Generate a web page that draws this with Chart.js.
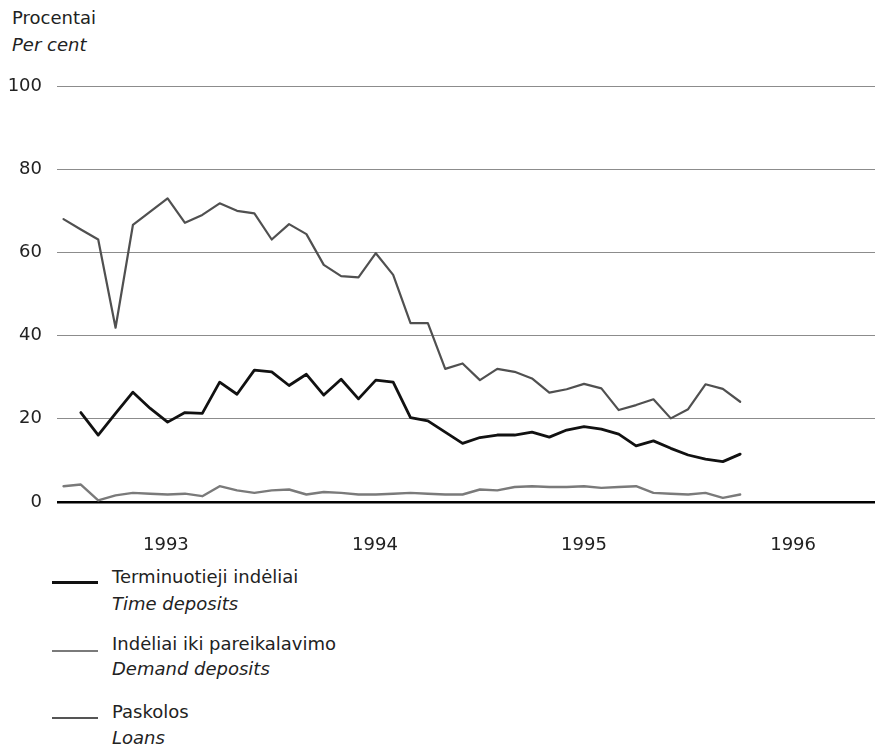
<!DOCTYPE html>
<html>
<head>
<meta charset="utf-8">
<script src="https://cdn.jsdelivr.net/npm/chart.js@4.4.1/dist/chart.umd.min.js"></script>
<style>
  body { margin: 0; background: #fff; font-family: "DejaVu Sans", sans-serif; color: #222; }
  #wrap { position: relative; width: 875px; height: 747px; }
  #chart-box { position: absolute; left: 0; top: 0; width: 875px; height: 560px; }
  .txt { position: absolute; font-size: 18px; line-height: 26px; white-space: nowrap; }
  .it { font-style: italic; }
  .swatch { position: absolute; left: 52px; width: 46px; }
</style>
</head>
<body>
<div id="wrap">
  <div class="txt" style="left:12px; top:5px;">Procentai</div>
  <div class="txt it" style="left:12px; top:32px;">Per cent</div>
  <div id="chart-box"><canvas id="chart"></canvas></div>

  <div class="swatch" style="top:581px; height:3px; background:#111;"></div>
  <div class="txt" style="left:112px; top:564px;">Terminuotieji indėliai</div>
  <div class="txt it" style="left:112px; top:591px;">Time deposits</div>

  <div class="swatch" style="top:650px; height:2px; background:#7a7a7a;"></div>
  <div class="txt" style="left:112px; top:631px;">Indėliai iki pareikalavimo</div>
  <div class="txt it" style="left:112px; top:656px;">Demand deposits</div>

  <div class="swatch" style="top:717px; height:2px; background:#555;"></div>
  <div class="txt" style="left:112px; top:699px;">Paskolos</div>
  <div class="txt it" style="left:112px; top:725px;">Loans</div>
</div>

<script>
// monthly observations, first point = January 1993
const monthIndex = Array.from({ length: 40 }, (_, i) => i);

const timeDeposits = [null, 21.5, 16.1, 21.3, 26.4, 22.5, 19.2, 21.5, 21.3, 28.8,
    25.9, 31.7, 31.3, 28.0, 30.7, 25.7, 29.5, 24.8, 29.3, 28.8,
    20.3, 19.5, 16.8, 14.1, 15.5, 16.1, 16.1, 16.8, 15.6, 17.3,
    18.1, 17.5, 16.3, 13.5, 14.7, 12.9, 11.3, 10.3, 9.7, 11.5];

const demandDeposits = [3.8, 4.2, 0.4, 1.6, 2.2, 2.0, 1.8, 2.0, 1.4, 3.8,
    2.8, 2.2, 2.8, 3.0, 1.8, 2.4, 2.2, 1.8, 1.8, 2.0,
    2.2, 2.0, 1.8, 1.8, 3.0, 2.8, 3.6, 3.8, 3.6, 3.6,
    3.8, 3.4, 3.6, 3.8, 2.2, 2.0, 1.8, 2.2, 1.0, 1.8];

const loans = [68.0, 65.5, 63.1, 41.9, 66.6, 69.8, 73.0, 67.1, 69.0, 71.8,
    70.0, 69.4, 63.1, 66.8, 64.4, 57.0, 54.3, 54.0, 59.8, 54.6,
    43.0, 43.0, 32.0, 33.3, 29.3, 32.0, 31.3, 29.7, 26.3, 27.1,
    28.4, 27.3, 22.1, 23.3, 24.7, 20.1, 22.3, 28.3, 27.2, 24.1];

// year labels sit in the middle of each year
const yearLabels = ['1993', '1994', '1995', '1996'];
const yearTickAt = [5.9, 17.95, 30.0, 42.05];

const yTicks = [0, 20, 40, 60, 80, 100];

const ctx = document.getElementById('chart').getContext('2d');
new Chart(ctx, {
    type: 'line',
    data: {
        labels: monthIndex,
        datasets: [
            {
                label: 'Paskolos',
                data: loans,
                borderColor: '#505050',
                borderWidth: 2.2
            },
            {
                label: 'Indėliai iki pareikalavimo',
                data: demandDeposits,
                borderColor: '#7a7a7a',
                borderWidth: 2.4
            },
            {
                label: 'Terminuotieji indėliai',
                data: timeDeposits,
                borderColor: '#111',
                borderWidth: 2.8
            }
        ]
    },
    options: {
        responsive: true,
        maintainAspectRatio: false,
        animation: false,
        layout: { padding: { top: 86, right: 0, bottom: 0, left: 0 } },
        elements: {
            point: { radius: 0 },
            line: { tension: 0, borderJoinStyle: 'round', borderCapStyle: 'round' }
        },
        plugins: {
            legend: { display: false },
            tooltip: { enabled: false }
        },
        scales: {
            x: {
                type: 'linear',
                min: -0.375,
                max: 46.77,
                grid: { display: false },
                border: { display: false },
                afterBuildTicks: function (scale) {
                    scale.ticks = yearTickAt.map(v => ({ value: v }));
                },
                afterFit: function (scale) { scale.height = 58; },
                ticks: {
                    padding: 25,
                    maxRotation: 0,
                    autoSkip: false,
                    color: '#222',
                    font: { family: 'DejaVu Sans', size: 18 },
                    callback: function (value, index) { return yearLabels[index]; }
                }
            },
            y: {
                min: 0,
                max: 100,
                afterBuildTicks: function (scale) {
                    scale.ticks = yTicks.map(v => ({ value: v }));
                },
                afterFit: function (scale) { scale.width = 57; },
                border: { display: false },
                grid: {
                    drawTicks: false,
                    color: c => c.tick && c.tick.value === 0 ? '#000' : '#8c8c8c',
                    lineWidth: c => c.tick && c.tick.value === 0 ? 2.5 : 1
                },
                ticks: {
                    padding: 15,
                    color: '#222',
                    font: { family: 'DejaVu Sans', size: 18 }
                }
            }
        }
    }
});
</script>
</body>
</html>
